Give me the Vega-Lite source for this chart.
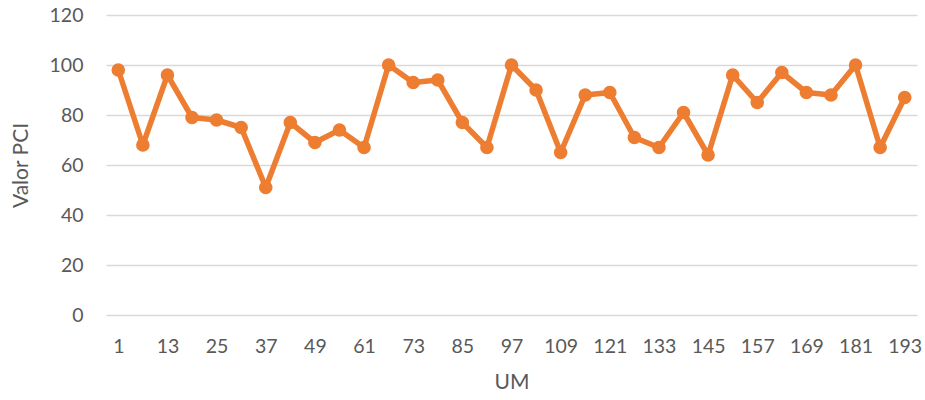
{
  "$schema": "https://vega.github.io/schema/vega-lite/v6.json",
  "width": 811,
  "height": 300,
  "autosize": {"type": "none"},
  "padding": {"left": 106, "top": 15, "right": 8, "bottom": 85},
  "background": "white",
  "config": {
    "view": {"stroke": null},
    "font": "Lato",
    "axis": {
      "labelFont": "Lato",
      "titleFont": "Lato",
      "labelColor": "#595959",
      "titleColor": "#595959",
      "labelFontSize": 19.5,
      "titleFontSize": 21,
      "titleFontWeight": "normal",
      "domain": false,
      "ticks": false
    }
  },
  "data": {
    "values": [
      {"UM": 1, "PCI": 98},
      {"UM": 7, "PCI": 68},
      {"UM": 13, "PCI": 96},
      {"UM": 19, "PCI": 79},
      {"UM": 25, "PCI": 78},
      {"UM": 31, "PCI": 75},
      {"UM": 37, "PCI": 51},
      {"UM": 43, "PCI": 77},
      {"UM": 49, "PCI": 69},
      {"UM": 55, "PCI": 74},
      {"UM": 61, "PCI": 67},
      {"UM": 67, "PCI": 100},
      {"UM": 73, "PCI": 93},
      {"UM": 79, "PCI": 94},
      {"UM": 85, "PCI": 77},
      {"UM": 91, "PCI": 67},
      {"UM": 97, "PCI": 100},
      {"UM": 103, "PCI": 90},
      {"UM": 109, "PCI": 65},
      {"UM": 115, "PCI": 88},
      {"UM": 121, "PCI": 89},
      {"UM": 127, "PCI": 71},
      {"UM": 133, "PCI": 67},
      {"UM": 139, "PCI": 81},
      {"UM": 145, "PCI": 64},
      {"UM": 151, "PCI": 96},
      {"UM": 157, "PCI": 85},
      {"UM": 163, "PCI": 97},
      {"UM": 169, "PCI": 89},
      {"UM": 175, "PCI": 88},
      {"UM": 181, "PCI": 100},
      {"UM": 187, "PCI": 67},
      {"UM": 193, "PCI": 87}
    ]
  },
  "encoding": {
    "x": {
      "field": "UM",
      "type": "ordinal",
      "sort": null,
      "scale": {"type": "point", "padding": 0.5},
      "axis": {
        "title": "UM",
        "labelAngle": 0,
        "labelPadding": 22,
        "titlePadding": 16,
        "grid": false,
        "values": [1, 13, 25, 37, 49, 61, 73, 85, 97, 109, 121, 133, 145, 157, 169, 181, 193]
      }
    },
    "y": {
      "field": "PCI",
      "type": "quantitative",
      "scale": {"domain": [0, 120], "nice": false},
      "axis": {
        "title": "Valor PCI",
        "values": [0, 20, 40, 60, 80, 100, 120],
        "labelPadding": 23,
        "titlePadding": 18,
        "grid": true,
        "gridColor": "#d9d9d9",
        "gridWidth": 1.5
      }
    }
  },
  "layer": [
    {
      "mark": {"type": "line", "color": "#ED7D31", "strokeWidth": 5.5, "strokeJoin": "round"}
    },
    {
      "mark": {"type": "point", "filled": true, "color": "#ED7D31", "opacity": 1, "size": 185}
    }
  ]
}
